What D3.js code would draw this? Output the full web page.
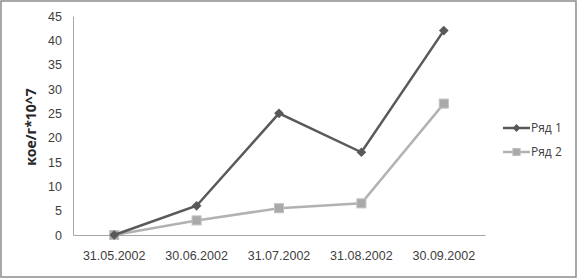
<!DOCTYPE html>
<html lang="ru">
<head>
  <meta charset="UTF-8">
  <title>кое/г*10^7</title>
  <script src="https://d3js.org/d3.v7.min.js"></script>
  <style>
    html, body { margin: 0; padding: 0; background: #fff; }
    svg { display: block; font-family: 'Open Sans', 'DejaVu Sans', sans-serif; }
  </style>
</head>
<body>
  <svg id="chart" width="578" height="279"></svg>
  <script>
    // Data
    const dates = ["31.05.2002", "30.06.2002", "31.07.2002", "31.08.2002", "30.09.2002"];
    const row1 = [0, 6, 25, 17, 42];
    const row2 = [0, 3, 5.5, 6.5, 27];
    const yTicks = [0, 5, 10, 15, 20, 25, 30, 35, 40, 45];
    const seriesNames = ["Ряд 1", "Ряд 2"];

    const svg = d3.select("#chart");

    // outer frame
    svg.append("rect")
      .attr("x", 1).attr("y", 1)
      .attr("width", 575).attr("height", 276)
      .attr("fill", "#fff")
      .attr("stroke", "#8c8c8c")
      .attr("stroke-width", 1.5);

    const x = d3.scaleBand().domain(dates).range([73, 485]);
    const y = d3.scaleLinear().domain([0, 45]).range([235, 16]);

    // y axis
    const yAxis = svg.append("g")
      .attr("transform", "translate(73,0)")
      .call(d3.axisLeft(y).tickValues(yTicks).tickSize(0).tickPadding(11));
    yAxis.select(".domain").attr("stroke", "#a6a6a6");
    yAxis.selectAll("text").attr("font-size", 12.5).attr("fill", "#404040");

    // x axis
    const xAxis = svg.append("g")
      .attr("transform", "translate(0,235)")
      .call(d3.axisBottom(x).tickSize(0).tickPadding(16));
    xAxis.select(".domain").attr("stroke", "#a6a6a6");
    xAxis.selectAll("text").attr("font-size", 12.5).attr("fill", "#404040");

    // y title
    svg.append("text")
      .attr("transform", "translate(36,127) rotate(-90)")
      .attr("text-anchor", "middle")
      .attr("font-size", 14)
      .attr("font-weight", "bold")
      .attr("fill", "#262626")
      .text("кое/г*10^7");

    const cx = d => x(d) + x.bandwidth() / 2;
    const line = d3.line().x((d, i) => cx(dates[i])).y(d => y(d));

    const styles = [
      { data: row1, color: "#595959", marker: "diamond" },
      { data: row2, color: "#b2b2b2", marker: "square" }
    ];

    // draw series 2 first so series 1 sits on top, as in the picture
    [1, 0].forEach(k => {
      const s = styles[k];
      svg.append("path")
        .datum(s.data)
        .attr("fill", "none")
        .attr("stroke", s.color)
        .attr("stroke-width", 2.5)
        .attr("d", line);
      s.data.forEach((v, i) => drawMarker(s, cx(dates[i]), y(v), 1));
    });

    function drawMarker(s, px, py, k) {
      if (s.marker === "diamond") {
        svg.append("path")
          .attr("d", d3.symbol().type(d3.symbolDiamond2).size(60 * k * k)())
          .attr("transform", `translate(${px},${py})`)
          .attr("fill", s.color);
      } else {
        const h = 4.5 * k;
        svg.append("rect")
          .attr("x", px - h).attr("y", py - h)
          .attr("width", 2 * h).attr("height", 2 * h)
          .attr("fill", "#a9a9a9")
          .attr("stroke", "#bfbfbf")
          .attr("stroke-width", 1);
      }
    }

    // legend
    const legend = svg.append("g");
    seriesNames.forEach((name, i) => {
      const s = styles[i];
      const ly = 128 + i * 24;
      legend.append("line")
        .attr("x1", 503).attr("x2", 530)
        .attr("y1", ly).attr("y2", ly)
        .attr("stroke", s.color)
        .attr("stroke-width", 2.5);
      drawMarker(s, 516.5, ly, 0.8);
      legend.append("text")
        .attr("x", 531).attr("y", ly + 4)
        .attr("font-size", 12)
        .attr("fill", "#404040")
        .text(name);
    });
  </script>
</body>
</html>
